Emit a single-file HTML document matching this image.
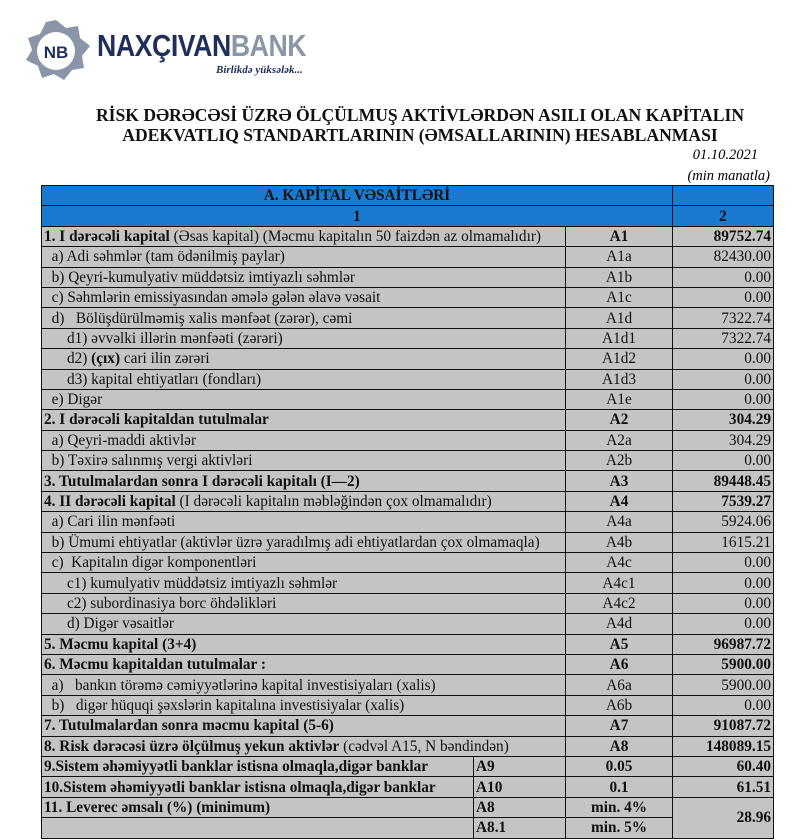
<!DOCTYPE html>
<html><head><meta charset="utf-8"><style>
body{margin:0;width:800px;height:840px;background:#fff;font-family:"Liberation Serif",serif;position:relative;overflow:hidden}
.t{position:absolute;left:0;width:800px;text-align:center;font-weight:bold;font-size:17.6px;color:#111}
table{position:absolute;left:41px;top:185px;border-collapse:collapse;table-layout:fixed;width:732px;font-size:15.3px;color:#111}
tr{height:20.4px}
td{border:1.5px solid #111;padding:0 2px;background:#c4c4c4;white-space:nowrap;overflow:hidden;line-height:17px}
tr.h td{background:#1a7ad0;font-weight:bold;text-align:center}
td.c{text-align:center}td.r{text-align:right}
.b{font-weight:bold}
</style></head><body>
<svg style="position:absolute;left:18px;top:18px" width="76" height="68" viewBox="0 0 76 68">
<g fill="#8a96a8">
<polygon points="38,2 48,10 60,8 62,20 72,28 64,38 66,50 54,52 46,62 36,56 24,60 20,48 8,42 14,32 10,20 22,16 28,4"/>
</g>
<circle cx="38" cy="33" r="19" fill="#fff"/>
<text x="38" y="40" text-anchor="middle" font-family="Liberation Sans" font-weight="bold" font-size="17" fill="#1e2f5c">NB</text>
</svg>
<div style="position:absolute;left:97px;top:28px;font-family:'Liberation Sans',sans-serif;font-weight:bold;font-size:31px;letter-spacing:-0.5px;color:#1e2f5c;transform:scaleX(0.86);transform-origin:left">NAXÇIVAN<span style="color:#8a96a8">BANK</span></div>
<div style="position:absolute;left:216px;top:64px;font-style:italic;font-weight:bold;font-size:11px;color:#1e2f5c">Birlikdə yüksələk...</div>
<div class="t" style="top:105px;left:20px">RİSK DƏRƏCƏSİ ÜZRƏ ÖLÇÜLMUŞ AKTİVLƏRDƏN ASILI OLAN KAPİTALIN</div>
<div class="t" style="top:125px;left:20px">ADEKVATLIQ STANDARTLARININ (ƏMSALLARININ) HESABLANMASI</div>
<div style="position:absolute;right:42px;top:147px;font-style:italic;font-size:14.5px">01.10.2021</div>
<div style="position:absolute;right:30px;top:168px;font-style:italic;font-size:14.5px">(min manatla)</div>
<table>
<colgroup><col style="width:432px"><col style="width:92px"><col style="width:107px"><col style="width:101px"></colgroup>
<tr class="h"><td colspan="3">A. KAPİTAL VƏSAİTLƏRİ</td><td></td></tr>
<tr class="h"><td colspan="3">1</td><td>2</td></tr>
<tr><td colspan="2"><b>1. I dərəcəli kapital</b> (Əsas kapital) (Məcmu kapitalın 50 faizdən  az olmamalıdır)</td><td class="c b">A1</td><td class="r b">89752.74</td></tr>
<tr><td colspan="2">&nbsp; a) Adi səhmlər (tam ödənilmiş paylar)</td><td class="c">A1a</td><td class="r">82430.00</td></tr>
<tr><td colspan="2">&nbsp; b) Qeyri-kumulyativ müddətsiz imtiyazlı səhmlər</td><td class="c">A1b</td><td class="r">0.00</td></tr>
<tr><td colspan="2">&nbsp; c) Səhmlərin emissiyasından əmələ gələn  əlavə vəsait</td><td class="c">A1c</td><td class="r">0.00</td></tr>
<tr><td colspan="2">&nbsp; d) &nbsp; Bölüşdürülməmiş xalis mənfəət (zərər), cəmi</td><td class="c">A1d</td><td class="r">7322.74</td></tr>
<tr><td colspan="2">&nbsp; &nbsp; &nbsp; d1) əvvəlki illərin mənfəəti (zərəri)</td><td class="c">A1d1</td><td class="r">7322.74</td></tr>
<tr><td colspan="2">&nbsp; &nbsp; &nbsp; d2) <b>(çıx)</b> cari ilin zərəri</td><td class="c">A1d2</td><td class="r">0.00</td></tr>
<tr><td colspan="2">&nbsp; &nbsp; &nbsp; d3) kapital ehtiyatları (fondları)</td><td class="c">A1d3</td><td class="r">0.00</td></tr>
<tr><td colspan="2">&nbsp; e) Digər</td><td class="c">A1e</td><td class="r">0.00</td></tr>
<tr><td colspan="2" class="b">2. I dərəcəli kapitaldan  tutulmalar</td><td class="c b">A2</td><td class="r b">304.29</td></tr>
<tr><td colspan="2">&nbsp; a) Qeyri-maddi aktivlər</td><td class="c">A2a</td><td class="r">304.29</td></tr>
<tr><td colspan="2">&nbsp; b) Təxirə salınmış vergi aktivləri</td><td class="c">A2b</td><td class="r">0.00</td></tr>
<tr><td colspan="2" class="b">3. Tutulmalardan  sonra I dərəcəli kapitalı (I—2)</td><td class="c b">A3</td><td class="r b">89448.45</td></tr>
<tr><td colspan="2"><b>4. II dərəcəli  kapital</b> (I dərəcəli  kapitalın  məbləğindən çox olmamalıdır)</td><td class="c b">A4</td><td class="r b">7539.27</td></tr>
<tr><td colspan="2">&nbsp; a) Cari ilin mənfəəti</td><td class="c">A4a</td><td class="r">5924.06</td></tr>
<tr><td colspan="2">&nbsp; b) Ümumi ehtiyatlar (aktivlər üzrə yaradılmış adi ehtiyatlardan çox olmamaqla)</td><td class="c">A4b</td><td class="r">1615.21</td></tr>
<tr><td colspan="2">&nbsp; c) &nbsp;Kapitalın digər komponentləri</td><td class="c">A4c</td><td class="r">0.00</td></tr>
<tr><td colspan="2">&nbsp; &nbsp; &nbsp; c1) kumulyativ müddətsiz imtiyazlı səhmlər</td><td class="c">A4c1</td><td class="r">0.00</td></tr>
<tr><td colspan="2">&nbsp; &nbsp; &nbsp; c2) subordinasiya borc öhdəlikləri</td><td class="c">A4c2</td><td class="r">0.00</td></tr>
<tr><td colspan="2">&nbsp; &nbsp; &nbsp; d) Digər vəsaitlər</td><td class="c">A4d</td><td class="r">0.00</td></tr>
<tr><td colspan="2" class="b">5. Məcmu kapital (3+4)</td><td class="c b">A5</td><td class="r b">96987.72</td></tr>
<tr><td colspan="2" class="b">6. Məcmu kapitaldan tutulmalar :</td><td class="c b">A6</td><td class="r b">5900.00</td></tr>
<tr><td colspan="2">&nbsp; a) &nbsp; bankın törəmə cəmiyyətlərinə kapital investisiyaları (xalis)</td><td class="c">A6a</td><td class="r">5900.00</td></tr>
<tr><td colspan="2">&nbsp; b) &nbsp; digər hüquqi şəxslərin kapitalına investisiyalar (xalis)</td><td class="c">A6b</td><td class="r">0.00</td></tr>
<tr><td colspan="2" class="b">7. Tutulmalardan  sonra məcmu kapital (5-6)</td><td class="c b">A7</td><td class="r b">91087.72</td></tr>
<tr><td colspan="2"><b>8. Risk dərəcəsi üzrə ölçülmuş  yekun aktivlər</b>  (cədvəl A15, N bəndindən)</td><td class="c b">A8</td><td class="r b">148089.15</td></tr>
<tr class="b"><td>9.Sistem əhəmiyyətli banklar istisna olmaqla,digər banklar</td><td>A9</td><td class="c">0.05</td><td class="r">60.40</td></tr>
<tr class="b"><td>10.Sistem əhəmiyyətli banklar istisna olmaqla,digər banklar</td><td>A10</td><td class="c">0.1</td><td class="r">61.51</td></tr>
<tr class="b"><td>11. Leverec əmsalı (%) (minimum)</td><td>A8</td><td class="c">min. 4%</td><td class="r" rowspan="2">28.96</td></tr>
<tr class="b"><td></td><td>A8.1</td><td class="c">min. 5%</td></tr>
</table>
</body></html>
